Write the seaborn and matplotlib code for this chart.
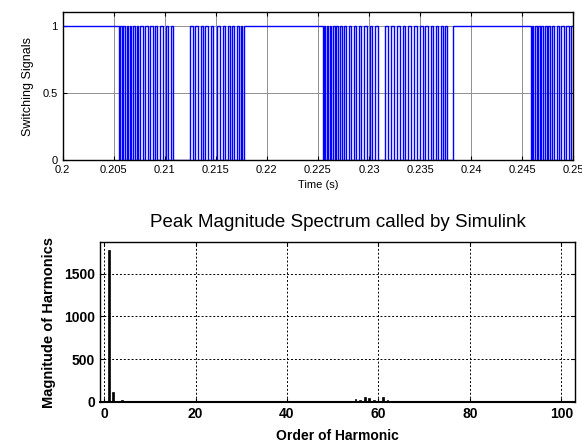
import numpy as np
import matplotlib
matplotlib.use('Agg')
import matplotlib.pyplot as plt
import seaborn as sns

# switching edge times (s), burst by burst
burst1 = [0.20553, 0.20565, 0.20582, 0.20595, 0.20611, 0.20627, 0.20640, 0.20660, 0.20673,
          0.20689, 0.20709, 0.20724, 0.20741, 0.20760, 0.20787, 0.20809, 0.20831, 0.20855,
          0.20880, 0.20904, 0.20926, 0.20955, 0.20984, 0.21011, 0.21033, 0.21059, 0.21085]
burst2 = [0.21248, 0.21274, 0.21296, 0.21328, 0.21352, 0.21371, 0.21397, 0.21426, 0.21449,
          0.21475, 0.21508, 0.21540, 0.21566, 0.21589, 0.21615, 0.21637, 0.21660, 0.21679,
          0.21703, 0.21722, 0.21742, 0.21757, 0.21777]
burst3 = [0.22545, 0.22556, 0.22572, 0.22585, 0.22600, 0.22616, 0.22630, 0.22650, 0.22664,
          0.22681, 0.22700, 0.22716, 0.22733, 0.22752, 0.22779, 0.22801, 0.22824, 0.22848,
          0.22873, 0.22897, 0.22920, 0.22949, 0.22978, 0.23005, 0.23029, 0.23056, 0.23083]
burst4 = [0.23158, 0.23190, 0.23215, 0.23246, 0.23272, 0.23300, 0.23328, 0.23356, 0.23383,
          0.23410, 0.23440, 0.23470, 0.23498, 0.23526, 0.23552, 0.23578, 0.23604, 0.23628,
          0.23652, 0.23676, 0.23700, 0.23722, 0.23745, 0.23766, 0.23824]
burst5 = [0.24582, 0.24594, 0.24610, 0.24623, 0.24640, 0.24655, 0.24670, 0.24688, 0.24703,
          0.24720, 0.24738, 0.24755, 0.24772, 0.24790, 0.24815, 0.24838, 0.24860, 0.24884,
          0.24908, 0.24932, 0.24955, 0.24980]
t_start, t_end, start_level = 0.2, 0.25, 1

time_ticks = [0.2, 0.205, 0.21, 0.215, 0.22, 0.225, 0.23, 0.235, 0.24, 0.245, 0.25]
time_labels = ['0.2', '0.205', '0.21', '0.215', '0.22', '0.225', '0.23', '0.235', '0.24', '0.245', '0.25']

# harmonic spectrum
harm_order = [1, 2, 4, 55, 56, 57, 58, 59, 61, 62]
harm_mag = [1780, 117, 20, 30, 25, 60, 45, 20, 50, 22]

# build the step signal
edges = burst1 + burst2 + burst3 + burst4 + burst5
t = [t_start]
s = [start_level]
level = start_level
for e in edges:
    level = 1 - level
    t.append(e)
    s.append(level)
t.append(t_end)
s.append(level)

plt.rcParams['font.family'] = ['Liberation Sans', 'DejaVu Sans']
plt.rcParams['xtick.direction'] = 'in'
plt.rcParams['ytick.direction'] = 'in'

fig = plt.figure(figsize=(5.82, 4.43), dpi=100)

# top: switching signals
ax1 = fig.add_axes([0.1077, 0.6388, 0.8773, 0.3334])
sns.lineplot(x=t, y=s, ax=ax1, color='#0000ff', linewidth=1.0,
             drawstyle='steps-post', estimator=None)
ax1.set_xlim(0.2, 0.25)
ax1.set_ylim(0, 1.1)
ax1.set_xticks(time_ticks)
ax1.set_xticklabels(time_labels)
ax1.set_yticks([0, 0.5, 1])
ax1.set_yticklabels(['0', '0.5', '1'])
ax1.grid(True, color='#909090', linestyle='-', linewidth=0.7)
ax1.set_axisbelow(True)
ax1.tick_params(labelsize=8, top=True, right=True, length=3, width=0.8)
ax1.set_xlabel('Time (s)', fontsize=8, labelpad=4)
ax1.set_ylabel('Switching Signals', fontsize=9, labelpad=6)
for sp in ax1.spines.values():
    sp.set_color('black')
    sp.set_linewidth(1.0)

# bottom: harmonic spectrum
ax2 = fig.add_axes([0.1718, 0.0932, 0.8162, 0.3598])
sns.barplot(x=harm_order, y=harm_mag, ax=ax2, native_scale=True, color='black',
            width=0.4, edgecolor='black', linewidth=0.5)
ax2.set_xlim(-0.9, 103)
ax2.set_ylim(0, 1870)
ax2.set_xticks([0, 20, 40, 60, 80, 100])
ax2.set_xticklabels(['0', '20', '40', '60', '80', '100'])
ax2.set_yticks([0, 500, 1000, 1500])
ax2.set_yticklabels(['0', '500', '1000', '1500'])
ax2.grid(True, color='black', linestyle=(0, (2, 2)), linewidth=0.7)
ax2.set_axisbelow(True)
ax2.tick_params(labelsize=10, top=True, right=True, length=3, width=0.8)
for lab in ax2.get_xticklabels() + ax2.get_yticklabels():
    lab.set_fontweight('bold')
ax2.set_xlabel('Order of Harmonic', fontsize=10, fontweight='bold', labelpad=6)
ax2.set_ylabel('Magnitude of Harmonics', fontsize=10.5, fontweight='bold', labelpad=6)
ax2.set_title('Peak Magnitude Spectrum called by Simulink', fontsize=13.5, pad=11)
for sp in ax2.spines.values():
    sp.set_color('black')
    sp.set_linewidth(1.0)
ax2.spines['bottom'].set_linewidth(1.5)

fig.savefig('out.png', dpi=100)
